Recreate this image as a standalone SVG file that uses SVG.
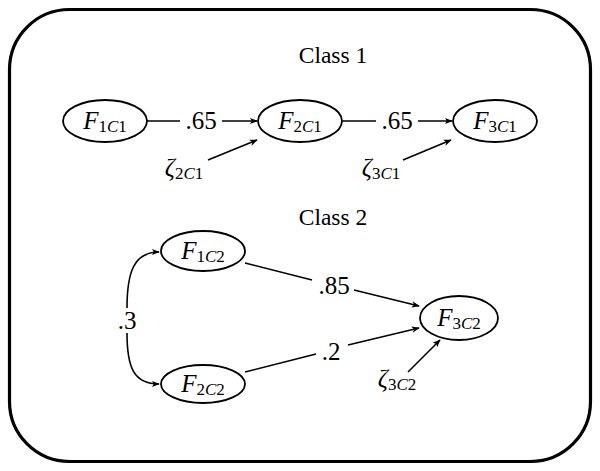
<svg xmlns="http://www.w3.org/2000/svg" width="600" height="471" viewBox="0 0 600 471">
<defs>
<style>
text{font-family:"Liberation Serif","DejaVu Serif",serif;fill:#000}
.n{fill:#fff;stroke:#000;stroke-width:1.8}
.lab{font-size:25px}
.sub{font-size:17px}
.i{font-style:italic}
.e{fill:none;stroke:#000;stroke-width:1.6}
.title{font-size:23.5px}
</style>
<marker id="ah" viewBox="0 0 10 10" refX="9" refY="5" markerWidth="8" markerHeight="8" markerUnits="userSpaceOnUse" orient="auto">
<path d="M0,1 L10,5 L0,9 L2.5,5 Z" fill="#000"/>
</marker>
</defs>
<rect x="9.5" y="9.5" width="581" height="452" rx="60" ry="60" fill="#fff" stroke="#000" stroke-width="3.2"/>
<text class="title" x="333" y="63" text-anchor="middle">Class 1</text>
<text class="title" x="333" y="225" text-anchor="middle">Class 2</text>
<g id="connectors">
<line class="e" x1="147" y1="121" x2="180" y2="121"/>
<line class="e" x1="222" y1="121" x2="257" y2="121" marker-end="url(#ah)"/>
<text class="lab" x="201" y="129" text-anchor="middle">.65</text>
<line class="e" x1="342" y1="121" x2="376" y2="121"/>
<line class="e" x1="418" y1="121" x2="452" y2="121" marker-end="url(#ah)"/>
<text class="lab" x="397" y="129" text-anchor="middle">.65</text>
<line class="e" x1="208" y1="160" x2="257" y2="140" marker-end="url(#ah)"/>
<line class="e" x1="403" y1="160" x2="451" y2="140" marker-end="url(#ah)"/>
<path class="e" d="M127,308 C127,272 134,252 159,252" marker-end="url(#ah)"/>
<path class="e" d="M127,333 C127,368 134,384 159,384" marker-end="url(#ah)"/>
<text class="lab" x="127" y="329" text-anchor="middle">.3</text>
<line class="e" x1="245" y1="263" x2="312" y2="280"/>
<line class="e" x1="354" y1="290" x2="419" y2="306" marker-end="url(#ah)"/>
<text class="lab" x="334" y="294" text-anchor="middle">.85</text>
<line class="e" x1="245" y1="372" x2="316" y2="354"/>
<line class="e" x1="348" y1="345" x2="419" y2="328" marker-end="url(#ah)"/>
<text class="lab" x="331" y="360" text-anchor="middle">.2</text>
<line class="e" x1="408" y1="372" x2="440" y2="340" marker-end="url(#ah)"/>
</g>
<g id="F1C1"><ellipse class="n" cx="105" cy="121" rx="42" ry="21"/><text class="lab" x="105" y="129" text-anchor="middle"><tspan class="i">F</tspan><tspan class="sub" dy="3">1<tspan class="i">C</tspan>1</tspan></text></g>
<g id="F2C1"><ellipse class="n" cx="300" cy="121" rx="42" ry="21"/><text class="lab" x="300" y="129" text-anchor="middle"><tspan class="i">F</tspan><tspan class="sub" dy="3">2<tspan class="i">C</tspan>1</tspan></text></g>
<g id="F3C1"><ellipse class="n" cx="495" cy="121" rx="42" ry="21"/><text class="lab" x="495" y="129" text-anchor="middle"><tspan class="i">F</tspan><tspan class="sub" dy="3">3<tspan class="i">C</tspan>1</tspan></text></g>
<g id="z2C1"><text class="lab" x="184" y="176" text-anchor="middle"><tspan class="i">ζ</tspan><tspan class="sub" dy="3">2<tspan class="i">C</tspan>1</tspan></text></g>
<g id="z3C1"><text class="lab" x="381" y="176" text-anchor="middle"><tspan class="i">ζ</tspan><tspan class="sub" dy="3">3<tspan class="i">C</tspan>1</tspan></text></g>
<g id="F1C2"><ellipse class="n" cx="203" cy="251" rx="42" ry="20"/><text class="lab" x="203" y="259" text-anchor="middle"><tspan class="i">F</tspan><tspan class="sub" dy="3">1<tspan class="i">C</tspan>2</tspan></text></g>
<g id="F2C2"><ellipse class="n" cx="203" cy="384" rx="42" ry="19"/><text class="lab" x="203" y="392" text-anchor="middle"><tspan class="i">F</tspan><tspan class="sub" dy="3">2<tspan class="i">C</tspan>2</tspan></text></g>
<g id="F3C2"><ellipse class="n" cx="459" cy="318" rx="39" ry="22"/><text class="lab" x="459" y="326" text-anchor="middle"><tspan class="i">F</tspan><tspan class="sub" dy="3">3<tspan class="i">C</tspan>2</tspan></text></g>
<g id="z3C2"><text class="lab" x="397" y="387" text-anchor="middle"><tspan class="i">ζ</tspan><tspan class="sub" dy="3">3<tspan class="i">C</tspan>2</tspan></text></g>
</svg>
